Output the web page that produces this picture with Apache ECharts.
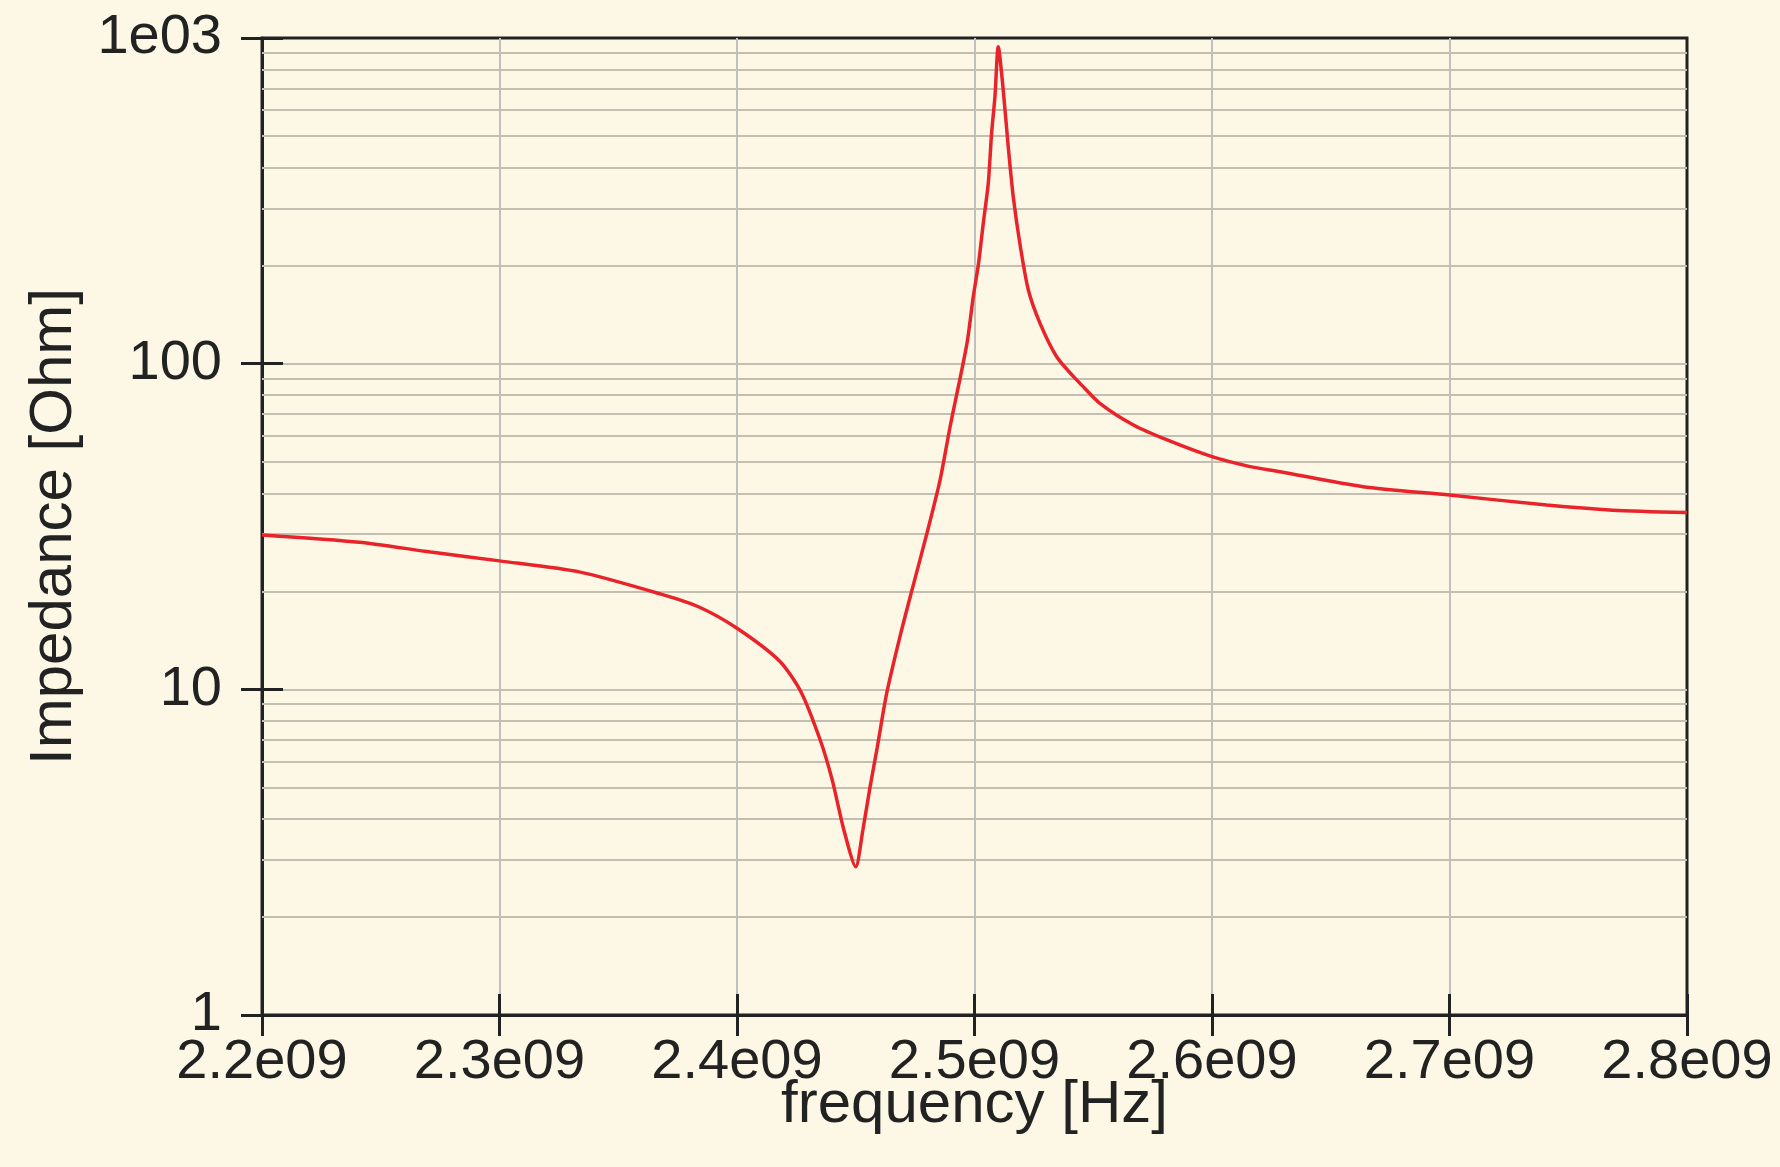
<!DOCTYPE html>
<html>
<head>
<meta charset="utf-8">
<title>Impedance vs frequency</title>
<script src="https://cdn.jsdelivr.net/npm/echarts@6/dist/echarts.min.js"></script>
<style>
  html, body { margin: 0; padding: 0; background: #fdf8e6; }
  #chart { width: 1780px; height: 1167px; }
</style>
</head>
<body>
<div id="chart"></div>
<script>
// Frequency sweep samples (Hz) and impedance magnitude (Ohm)
const freqHz = [
  2.200e9, 2.241e9, 2.271e9, 2.300e9, 2.334e9, 2.368e9, 2.384e9,
  2.400e9, 2.418e9, 2.427e9, 2.435e9, 2.440e9, 2.445e9, 2.450e9, 2.453e9,
  2.456e9, 2.459e9, 2.463e9, 2.469e9, 2.474e9, 2.480e9, 2.4855e9, 2.4897e9,
  2.4968e9, 2.4995e9, 2.5017e9, 2.5037e9, 2.5058e9, 2.5072e9, 2.5086e9, 2.510e9,
  2.5121e9, 2.5142e9, 2.5163e9, 2.5193e9, 2.5227e9, 2.5276e9, 2.5346e9,
  2.5417e9, 2.5444e9, 2.5528e9, 2.5669e9, 2.5811e9, 2.600e9, 2.616e9, 2.6286e9,
  2.6636e9, 2.700e9, 2.7409e9, 2.7688e9, 2.800e9
];
const impedanceOhm = [
  29.8, 28.3, 26.4, 24.8, 22.9, 19.6, 17.9,
  15.4, 12.2, 9.8, 7.0, 5.3, 3.7, 2.85, 3.7,
  5.0, 6.6, 9.7, 14.9, 20.6, 30.2, 43.9, 63.9,
  115, 161, 203, 270, 358, 510, 660, 940,
  692, 464, 326, 229, 168, 133, 105,
  91.2, 87, 75.5, 64.8, 58.3, 51.8, 48.3, 46.6,
  41.9, 39.5, 36.8, 35.5, 34.9
];

// Axis tick labels
const xTickLabels = ['2.2e09', '2.3e09', '2.4e09', '2.5e09', '2.6e09', '2.7e09', '2.8e09'];
const yTickLabels = { 1: '1', 10: '10', 100: '100', 1000: '1e03' };

// Minor decade gridlines (2..9 within each decade)
const minorGridValues = [
  2, 3, 4, 5, 6, 7, 8, 9,
  20, 30, 40, 50, 60, 70, 80, 90,
  200, 300, 400, 500, 600, 700, 800, 900
];

const xMin = 2.2e9, xMax = 2.8e9, xStep = 1e8;
const labelFont = 'Liberation Sans';
const ink = '#222222';
const gridGray = '#c2beb1';

const chart = echarts.init(document.getElementById('chart'), null, { renderer: 'canvas' });

const points = freqHz.map((f, i) => [f, impedanceOhm[i]]);

const xCommon = { type: 'value', min: xMin, max: xMax, interval: xStep, gridIndex: 0 };
const yCommon = { type: 'log', logBase: 10, min: 1, max: 1000, gridIndex: 0 };

chart.setOption({
  backgroundColor: '#fdf8e6',
  animation: false,
  grid: {
    left: 262, right: 93, top: 38, bottom: 152,
    show: true,
    backgroundColor: 'transparent',
    borderColor: ink,
    borderWidth: 3,
    outerBoundsMode: 'none'
  },
  xAxis: [
    Object.assign({}, xCommon, {
      position: 'bottom',
      name: 'frequency [Hz]',
      nameLocation: 'middle',
      nameGap: 60,
      nameMoveOverlap: false,
      nameTextStyle: { fontFamily: labelFont, fontSize: 60, color: ink },
      axisLine: { show: true, lineStyle: { color: ink, width: 3 } },
      axisTick: { show: true, length: 21, lineStyle: { color: ink, width: 3 } },
      axisLabel: {
        margin: 20,
        fontFamily: labelFont, fontSize: 56, color: ink,
        formatter: (v) => xTickLabels[Math.round((v - xMin) / xStep)]
      },
      splitLine: { show: true, showMinLine: false, showMaxLine: false, lineStyle: { color: '#c0c0bc', width: 2 } }
    }),
    // inward half of the crossing ticks
    Object.assign({}, xCommon, {
      position: 'bottom',
      axisLine: { show: false },
      axisTick: { show: true, inside: true, length: 21, lineStyle: { color: ink, width: 3 } },
      axisLabel: { show: false },
      splitLine: { show: false }
    })
  ],
  yAxis: [
    Object.assign({}, yCommon, {
      position: 'left',
      name: 'Impedance [Ohm]',
      nameLocation: 'middle',
      nameGap: 178,
      nameMoveOverlap: false,
      nameTextStyle: { fontFamily: labelFont, fontSize: 60, color: ink },
      axisLine: { show: true, lineStyle: { color: ink, width: 3 } },
      axisTick: { show: true, length: 21, lineStyle: { color: ink, width: 3 } },
      axisLabel: {
        margin: 40,
        fontFamily: labelFont, fontSize: 56, color: ink,
        formatter: (v) => yTickLabels[Math.round(v)] || ''
      },
      splitLine: { show: true, showMinLine: false, showMaxLine: false, lineStyle: { color: gridGray, width: 2 } }
    }),
    Object.assign({}, yCommon, {
      position: 'left',
      axisLine: { show: false },
      axisTick: { show: true, inside: true, length: 21, lineStyle: { color: ink, width: 3 } },
      axisLabel: { show: false },
      splitLine: { show: false }
    })
  ],
  series: [
    {
      type: 'line',
      xAxisIndex: 0,
      yAxisIndex: 0,
      data: points,
      showSymbol: false,
      smooth: 0.25,
      z: 3,
      lineStyle: { color: '#e8242a', width: 3.5 },
      markLine: {
        silent: true,
        z: 1,
        symbol: ['none', 'none'],
        label: { show: false },
        lineStyle: { color: gridGray, width: 2, type: 'solid' },
        data: minorGridValues.map(v => ({ yAxis: v }))
      }
    }
  ]
});
</script>
</body>
</html>
